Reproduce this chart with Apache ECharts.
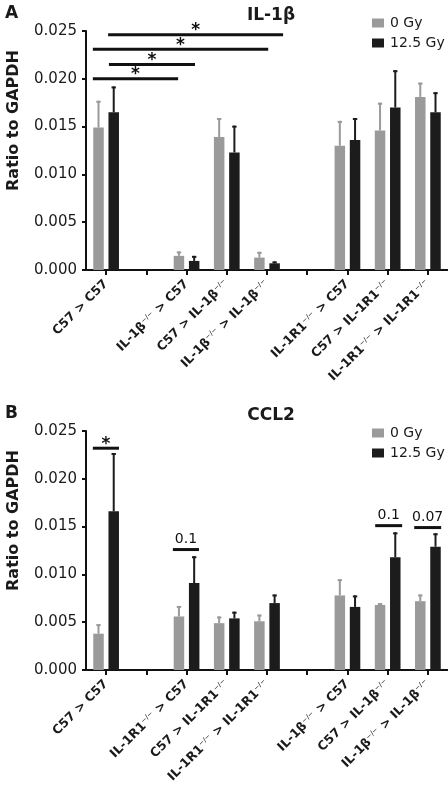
<!DOCTYPE html>
<html><head><meta charset="utf-8">
<script src="https://cdn.jsdelivr.net/npm/echarts@6/dist/echarts.min.js"></script>
<style>html,body{margin:0;padding:0;background:#fff}#c{width:448px;height:789px}</style>
</head><body><div id="c"></div>
<script>
// ---- data ----
const seriesNames = ['0 Gy', '12.5 Gy'];
const yTicks = [0, 0.005, 0.010, 0.015, 0.020, 0.025];

const catsA = ['C57 > C57', '', 'IL-1β-/- > C57', 'C57 > IL-1β-/-', 'IL-1β-/- > IL-1β-/-', '', 'IL-1R1-/- > C57', 'C57 > IL-1R1-/-', 'IL-1R1-/- > IL-1R1-/-'];
const grayA     = [0.0149, null, 0.00148, 0.0139, 0.0013, null, 0.0130, 0.0146, 0.0181];
const grayErrA  = [0.0177, null, 0.00194, 0.0159, 0.0019, null, 0.0156, 0.0175, 0.0196];
const blackA    = [0.0165, null, 0.00095, 0.0123, 0.0007, null, 0.0136, 0.0170, 0.0165];
const blackErrA = [0.0192, null, 0.00148, 0.0151, 0.0009, null, 0.0159, 0.0209, 0.0186];
// significance brackets: [fromIndex, toIndex, yValue]
const sigA = [[-0.33, 1.79, 0.0200], [0.07, 2.21, 0.0215], [-0.33, 4.03, 0.0231], [0.05, 4.40, 0.0246]];
const sigLabelsA = ['*', '*', '*', '*'];

const catsB = ['C57 > C57', '', 'IL-1R1-/- > C57', 'C57 > IL-1R1-/-', 'IL-1R1-/- > IL-1R1-/-', '', 'IL-1β-/- > C57', 'C57 > IL-1β-/-', 'IL-1β-/- > IL-1β-/-'];
const grayB     = [0.0038, null, 0.0056, 0.0049, 0.0051, null, 0.0078, 0.0068, 0.0072];
const grayErrB  = [0.0048, null, 0.0067, 0.0056, 0.0058, null, 0.0095, 0.0070, 0.0079];
const blackB    = [0.0166, null, 0.0091, 0.0054, 0.0070, null, 0.0066, 0.0118, 0.0129];
const blackErrB = [0.0227, null, 0.0119, 0.0061, 0.0079, null, 0.0078, 0.0144, 0.0143];
const sigB = [[-0.33, 0.32, 0.0232], [1.66, 2.31, 0.0126], [6.69, 7.36, 0.0151], [7.66, 8.33, 0.0149]];
const sigLabelsB = ['*', '0.1', '0.1', '0.07'];

const titles = ['IL-1β', 'CCL2'];
const panelLetters = ['A', 'B'];
const yName = 'Ratio to GAPDH';

// ---- styling ----
const FONT = 'DejaVu Sans';
const GRAY = '#9a9a9a', BLACK = '#1c1c1c', TXT = '#1a1a1a';
const BAR_W = 10.5, BAR_GAP = 0.45;
const grids = [
  {left: 86, right: 0, top: 31, height: 239, outerBoundsMode: 'none', containLabel: false},
  {left: 86, right: 0, top: 431, height: 239, outerBoundsMode: 'none', containLabel: false}
];

function fmtCat(s) { return s.replace(/-\/-/g, '{s|−/−}'); }

function errSeries(name, vals, errs, side, xi, yi, color) {
  const data = [];
  vals.forEach((v, i) => { if (v != null) data.push([i, v, errs[i]]); });
  return {
    type: 'custom', name: name + ' err', xAxisIndex: xi, yAxisIndex: yi, z: 5,
    encode: {x: 0, y: [1, 2]},
    data: data,
    renderItem(params, api) {
      const off = side * (BAR_W * (1 + BAR_GAP)) / 2;
      const p0 = api.coord([api.value(0), api.value(1)]);
      const p1 = api.coord([api.value(0), api.value(2)]);
      const x = p0[0] + off;
      return {type: 'group', children: [
        {type: 'line', shape: {x1: x, y1: p0[1], x2: x, y2: p1[1]}, style: {stroke: color, lineWidth: 2}},
        {type: 'line', shape: {x1: x - 2.2, y1: p1[1] + 1, x2: x + 2.2, y2: p1[1] + 1}, style: {stroke: color, lineWidth: 2}}
      ]};
    }
  };
}

function sigSeries(sig, labels, xi, yi) {
  return {
    type: 'custom', xAxisIndex: xi, yAxisIndex: yi, z: 6,
    encode: {x: [0, 1], y: 2},
    data: sig,
    renderItem(params, api) {
      const a = api.coord([api.value(0), api.value(2)]);
      const b = api.coord([api.value(1), api.value(2)]);
      const lab = labels[params.dataIndex];
      const star = lab === '*';
      return {type: 'group', children: [
        {type: 'line', shape: {x1: a[0], y1: a[1], x2: b[0], y2: b[1]}, style: {stroke: '#111', lineWidth: 3}},
        {type: 'text', x: (a[0] + b[0]) / 2, y: star ? a[1] - 4 : a[1] - 3,
         style: {text: lab, align: 'center', verticalAlign: star ? 'middle' : 'bottom',
                 fontFamily: FONT, fontSize: star ? 17 : 14, fontWeight: star ? 'bold' : 'normal', fill: '#111'}}
      ]};
    }
  };
}

const xAxes = [], yAxes = [], series = [], titleArr = [], legends = [];
const panels = [
  {cats: catsA, g: grayA, ge: grayErrA, b: blackA, be: blackErrA, sig: sigA, sl: sigLabelsA},
  {cats: catsB, g: grayB, ge: grayErrB, b: blackB, be: blackErrB, sig: sigB, sl: sigLabelsB}
];
panels.forEach((p, k) => {
  xAxes.push({
    type: 'category', gridIndex: k, data: p.cats,
    axisLine: {onZero: false, lineStyle: {color: '#111', width: 2}},
    axisTick: {show: true, alignWithLabel: true, length: 5, lineStyle: {width: 2, color: '#111'}, interval: 0},
    axisLabel: {interval: 0, rotate: 45, margin: 12, fontFamily: FONT, fontWeight: 'bold', fontSize: 12.5, color: TXT,
      formatter: fmtCat,
      rich: {s: {fontFamily: FONT, fontSize: 7, fontWeight: 'normal', verticalAlign: 'top', color: TXT}}}
  });
  xAxes.push({type: 'value', gridIndex: k, min: -0.5, max: 8.5, show: false});
  yAxes.push({
    type: 'value', gridIndex: k, min: 0, max: 0.025, interval: 0.005,
    name: yName, nameLocation: 'middle', nameGap: 64,
    nameTextStyle: {fontFamily: FONT, fontWeight: 'bold', fontSize: 16, color: TXT, padding: [0, 0, 0, 60]},
    axisLine: {show: true, onZero: false, lineStyle: {color: '#111', width: 2}},
    axisTick: {show: true, length: 4, lineStyle: {width: 2, color: '#111'}},
    splitLine: {show: false},
    axisLabel: {fontFamily: FONT, fontSize: 15, color: TXT, margin: 9,
      formatter: v => yTicks.some(t => Math.abs(t - v) < 1e-9) ? v.toFixed(3) : ''}
  });
  const xi = k * 2, yi = k;
  series.push({type: 'bar', name: seriesNames[0], xAxisIndex: xi, yAxisIndex: yi, data: p.g,
    barWidth: BAR_W, barGap: (BAR_GAP * 100) + '%', itemStyle: {color: GRAY}});
  series.push({type: 'bar', name: seriesNames[1], xAxisIndex: xi, yAxisIndex: yi, data: p.b,
    barWidth: BAR_W, barGap: (BAR_GAP * 100) + '%', itemStyle: {color: BLACK}});
  series.push(errSeries(seriesNames[0], p.g, p.ge, -1, xi, yi, GRAY));
  series.push(errSeries(seriesNames[1], p.b, p.be, 1, xi, yi, BLACK));
  series.push(sigSeries(p.sig, p.sl, xi + 1, yi));
  titleArr.push({text: titles[k], left: 266, top: k * 400 + 2, textAlign: 'center',
    textStyle: {fontFamily: FONT, fontWeight: 'bold', fontSize: 17, color: TXT}});
  titleArr.push({text: panelLetters[k], left: 0, top: k * 400, 
    textStyle: {fontFamily: FONT, fontWeight: 'bold', fontSize: 17, color: TXT}});
  legends.push({data: seriesNames, orient: 'vertical', left: 372, top: k * 400 + (k ? 26 : 16), padding: 0,
    icon: 'rect', itemWidth: 12, itemHeight: 9, itemGap: 6,
    textStyle: {fontFamily: FONT, fontSize: 14, color: TXT, padding: [0, 0, 0, 1]}});
});

const chart = echarts.init(document.getElementById('c'), null, {renderer: 'canvas'});
chart.setOption({
  animation: false,
  backgroundColor: '#fff',
  title: titleArr,
  legend: legends,
  grid: grids,
  xAxis: xAxes,
  yAxis: yAxes,
  series: series
});
</script></body></html>
